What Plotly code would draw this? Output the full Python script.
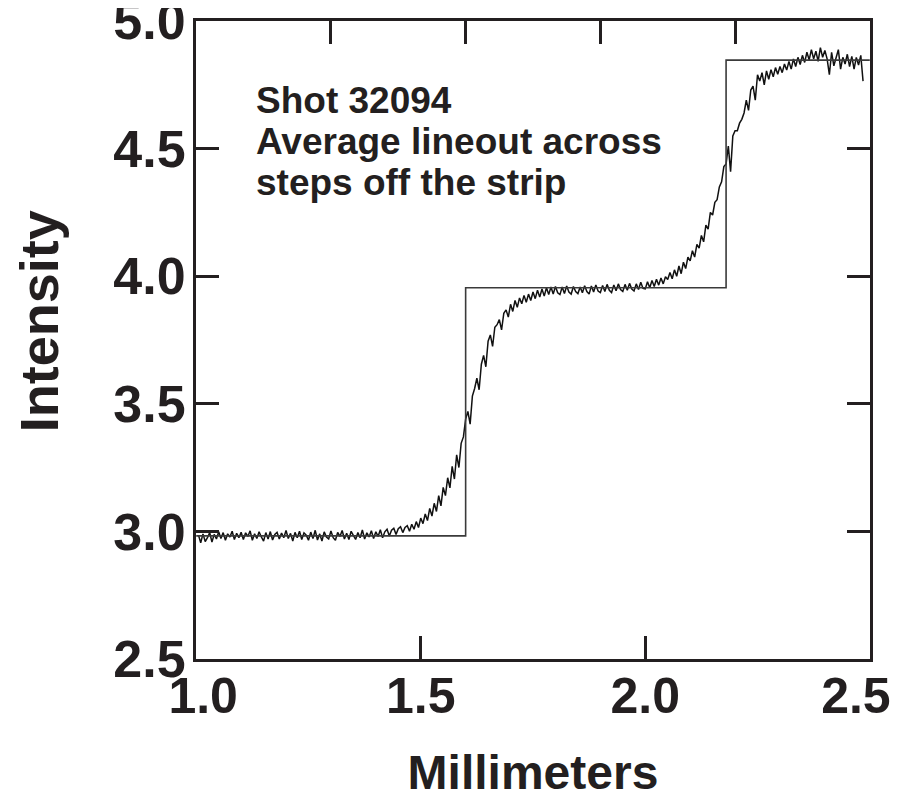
import numpy as np
import plotly.graph_objects as go

# Sampling grid of the lineout (mm)
x_start = 1.005
x_step = 0.005

intensity = [
    2.985, 2.955, 2.990, 2.960, 2.975, 2.995, 2.958, 2.988, 2.970, 2.998,
    2.972, 2.995, 2.965, 2.990, 2.978, 3.000, 2.968, 2.992, 2.975, 2.996,
    2.968, 2.994, 2.980, 3.002, 2.965, 2.990, 2.972, 2.998, 2.978, 2.962,
    2.995, 2.970, 2.999, 2.966, 2.988, 2.996, 2.970, 2.993, 2.975, 3.003,
    2.972, 2.992, 2.962, 2.996, 2.975, 3.000, 2.968, 2.994, 2.985, 2.965,
    2.997, 2.972, 3.004, 2.966, 2.990, 2.962, 2.998, 2.978, 2.970, 3.001,
    2.975, 2.965, 2.996, 2.980, 3.003, 2.970, 2.992, 2.968, 3.000, 2.982,
    2.968, 2.995, 2.975, 3.005, 2.970, 2.994, 2.978, 3.002, 2.972, 2.998,
    2.980, 3.006, 2.975, 2.998, 3.008, 2.982, 3.004, 3.012, 2.988, 3.010,
    3.018, 2.995, 3.015, 3.022, 3.000, 3.028, 3.008, 3.038, 3.015, 3.052,
    3.030, 3.068, 3.042, 3.090, 3.060, 3.110, 3.078, 3.140, 3.100, 3.172,
    3.140, 3.210, 3.170, 3.255, 3.205, 3.300, 3.250, 3.345, 3.370, 3.440,
    3.470, 3.420, 3.530, 3.560, 3.600, 3.555, 3.655, 3.690, 3.645, 3.745,
    3.770, 3.725, 3.800, 3.810, 3.830, 3.790, 3.855, 3.868, 3.840, 3.890,
    3.862, 3.905, 3.878, 3.915, 3.892, 3.925, 3.898, 3.930, 3.905, 3.938,
    3.912, 3.945, 3.918, 3.950, 3.922, 3.955, 3.928, 3.958, 3.930, 3.960,
    3.935, 3.928, 3.958, 3.932, 3.962, 3.938, 3.930, 3.960, 3.940, 3.932,
    3.958, 3.935, 3.963, 3.940, 3.930, 3.962, 3.938, 3.966, 3.942, 3.936,
    3.964, 3.940, 3.968, 3.945, 3.936, 3.966, 3.943, 3.970, 3.948, 3.940,
    3.968, 3.945, 3.972, 3.950, 3.942, 3.970, 3.948, 3.976, 3.952, 3.950,
    3.978, 3.955, 3.983, 3.960, 3.988, 3.965, 3.993, 3.970, 3.998, 3.987,
    4.015, 3.990, 4.025, 4.000, 4.040, 4.010, 4.055, 4.030, 4.075, 4.060,
    4.100, 4.075, 4.125, 4.110, 4.160, 4.135, 4.200, 4.185, 4.250, 4.240,
    4.290, 4.300, 4.350, 4.370, 4.430, 4.440, 4.510, 4.410, 4.550, 4.570,
    4.570, 4.600, 4.615, 4.640, 4.690, 4.650, 4.730, 4.745, 4.690, 4.790,
    4.765, 4.798, 4.750, 4.805, 4.772, 4.810, 4.782, 4.818, 4.792, 4.822,
    4.798, 4.832, 4.808, 4.842, 4.812, 4.852, 4.822, 4.858, 4.830, 4.866,
    4.838, 4.878, 4.848, 4.888, 4.852, 4.882, 4.842, 4.896, 4.858, 4.885,
    4.852, 4.790, 4.878, 4.825, 4.862, 4.888, 4.812, 4.858, 4.832, 4.870,
    4.822, 4.862, 4.812, 4.858, 4.828, 4.866, 4.765,
]
mm = [x_start + x_step * i for i in range(len(intensity))]

# Ideal step profile
step_x = [1.0, 1.6, 2.18, 2.5]
step_y = [2.982, 3.955, 4.847, 4.847]

# Axis ticks
x_ticks = [1.0, 1.5, 2.0, 2.5]
x_ticklabels = ["1.0", "1.5", "2.0", "2.5"]
x_top_ticks = [1.3, 1.6, 1.9, 2.2]
y_ticks = [2.5, 3.0, 3.5, 4.0, 4.5, 5.0]
y_ticklabels = ["2.5", "3.0", "3.5", "4.0", "4.5", "5.0"]

# Texts
note_lines = ["Shot 32094", "Average lineout across", "steps off the strip"]
x_title = "Millimeters"
y_title = "Intensity"

FONT = "Liberation Sans, Arial, Helvetica, sans-serif"
INK = "#231f20"
XR = [0.9995, 2.5005]
YR = [2.4995, 5.0005]
NB = "\u00a0"

# end labels nudged inward, as in the original
x_ticktext = list(x_ticklabels)
x_ticktext[0] = NB + x_ticktext[0]
x_ticktext[-1] = x_ticktext[-1] + NB + NB

fig = go.Figure()
fig.add_trace(go.Scatter(x=step_x, y=step_y, mode="lines", line_shape="hv",
                         line=dict(color="#3a3a3a", width=1.6),
                         xaxis="x2", yaxis="y", hoverinfo="skip", showlegend=False))
fig.add_trace(go.Scatter(x=mm, y=intensity, mode="lines",
                         line=dict(color="#111111", width=1.5),
                         showlegend=False))

annotations = []
for i, line in enumerate(note_lines):
    annotations.append(dict(
        text=line, xref="paper", yref="paper",
        x=(256 - 195) / 675, y=(659 - (100 + 41 * i)) / 638,
        xanchor="left", yanchor="middle", align="left", showarrow=False,
        xshift=-3,
        font=dict(size=37, family=FONT, weight="bold", color=INK)))
# y-axis title
annotations.append(dict(
    text=y_title, xref="paper", yref="paper",
    x=(38 - 195) / 675, y=(659 - 321) / 638,
    xanchor="center", yanchor="middle", textangle=-90, showarrow=False,
    font=dict(size=54, family=FONT, weight="bold", color=INK)))

fig.update_layout(
    width=900, height=799,
    margin=dict(l=188, r=38, t=13, b=148, autoexpand=False),
    paper_bgcolor="white", plot_bgcolor="white",
    font=dict(family=FONT, color=INK),
    xaxis=dict(range=XR, tickvals=x_ticks, ticktext=x_ticktext,
               ticks="inside", ticklen=23, tickwidth=3, tickcolor=INK,
               showline=True, linewidth=3, linecolor=INK, mirror=True,
               showgrid=False, zeroline=False, automargin=False,
               ticklabeloverflow="allow",
               tickfont=dict(size=50, family=FONT, weight="bold", color=INK),
               ticklabelstandoff=-9,
               title=dict(text=x_title, standoff=33,
                          font=dict(size=48, family=FONT, weight="bold", color=INK))),
    xaxis2=dict(range=XR, overlaying="x", side="top",
                tickvals=x_top_ticks, ticks="inside", ticklen=23, tickwidth=3,
                tickcolor=INK, showticklabels=False, showline=False,
                showgrid=False, zeroline=False, automargin=False),
    yaxis=dict(range=YR, tickvals=y_ticks, ticktext=y_ticklabels,
               ticks="inside", ticklen=23, tickwidth=3, tickcolor=INK,
               showline=True, linewidth=3, linecolor=INK, mirror="ticks",
               showgrid=False, zeroline=False, automargin=False,
               ticklabeloverflow="allow",
               tickfont=dict(size=52, family=FONT, weight="bold", color=INK),
               ticklabelstandoff=-3),
    annotations=annotations,
)

fig.write_html("out.html")
